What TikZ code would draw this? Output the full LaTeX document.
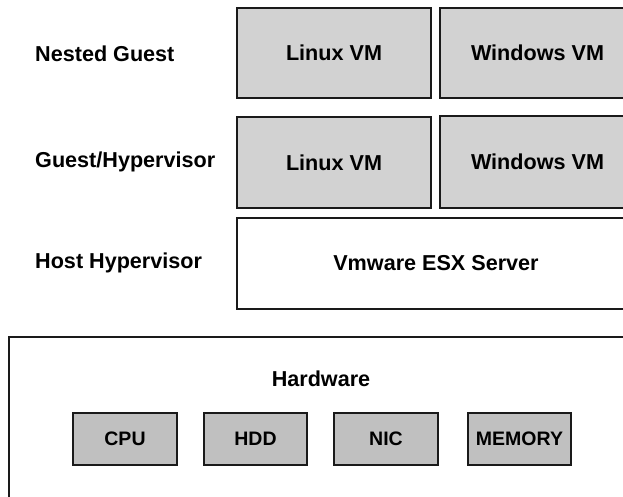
\documentclass[tikz,border=0pt]{standalone}
\usepackage{fontspec}
\setmainfont{Liberation Sans}
\definecolor{vmgray}{HTML}{D2D2D2}
\definecolor{hwgray}{HTML}{C0C0C0}
\definecolor{edge}{HTML}{1A1A1A}
\tikzset{
  vmbox/.style={draw=edge, line width=2.3pt, fill=vmgray, rectangle, inner sep=0pt,
    font=\fontsize{21.6}{24}\selectfont\bfseries},
  plainbox/.style={draw=edge, line width=2.3pt, fill=white, rectangle, inner sep=0pt,
    font=\fontsize{21.6}{24}\selectfont\bfseries},
  hwbox/.style={draw=edge, line width=2.3pt, fill=hwgray, rectangle, inner sep=0pt,
    minimum width=103pt, minimum height=52pt, font=\fontsize{19.5}{22}\selectfont\bfseries},
  layerlabel/.style={anchor=west, inner sep=0pt, font=\fontsize{21.6}{24}\selectfont\bfseries},
}
\begin{document}
\begin{tikzpicture}[x=1pt,y=-1pt]
\useasboundingbox (0,0) rectangle (623,497);
\clip (0,0) rectangle (623,497);
\fill[white] (0,0) rectangle (623,497);
% layer labels
\node[layerlabel] (lng) at (35,54) {Nested Guest};
\node[layerlabel] (lgh) at (35,162) {Guest/Hypervisor};
\node[layerlabel] (lhh) at (35,263) {Host Hypervisor};
% nested guest row
\node[vmbox, minimum width=194pt, minimum height=90pt] (nglinux) at (334,53) {Linux VM};
\node[vmbox, minimum width=195pt, minimum height=90pt] (ngwin) at (537.5,53) {Windows VM};
% guest/hypervisor row
\node[vmbox, minimum width=194pt, minimum height=91pt] (ghlinux) at (334,162.5) {Linux VM};
\node[vmbox, minimum width=195pt, minimum height=92pt] (ghwin) at (537.5,162) {Windows VM};
% host hypervisor
\node[plainbox, minimum width=398pt, minimum height=91pt] (esx) at (436,263.5) {Vmware ESX Server};
% hardware
\node[plainbox, minimum width=626pt, minimum height=183pt] (hw) at (322,428.5) {};
\node[inner sep=0pt, font=\fontsize{21.6}{24}\selectfont\bfseries] (hwlabel) at (321,379) {Hardware};
\node[hwbox, minimum width=104pt] (cpu) at (125,439) {CPU};
\node[hwbox] (hdd) at (255.5,439) {HDD};
\node[hwbox, minimum width=104pt] (nic) at (386,439) {NIC};
\node[hwbox] (mem) at (519.5,439) {MEMORY};
\end{tikzpicture}
\end{document}
